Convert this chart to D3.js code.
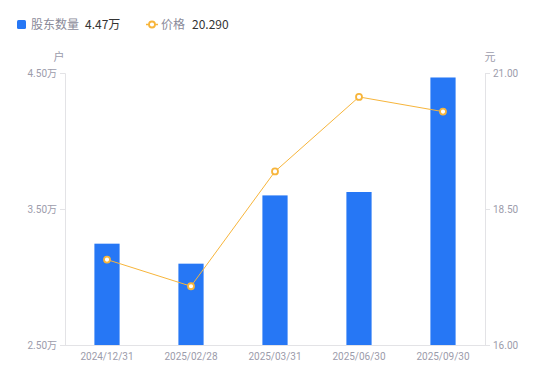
<!DOCTYPE html>
<html><head><meta charset="utf-8">
<script src="https://cdn.jsdelivr.net/npm/d3@7/dist/d3.min.js"></script>
<style>
html,body{margin:0;padding:0;background:#fff;}
svg{display:block;font-family:"Noto Sans CJK SC","Noto Sans",sans-serif;}
</style></head>
<body><svg id="c" width="550" height="381"></svg>
<script>
const categories = ["2024/12/31","2025/02/28","2025/03/31","2025/06/30","2025/09/30"];
const holders = [3.245, 3.098, 3.60, 3.625, 4.467]; // 万户
const prices = [17.57, 17.08, 19.19, 20.56, 20.29]; // 元
const leftTicks = [2.5, 3.5, 4.5];
const rightTicks = [16.0, 18.5, 21.0];
const legendHolder = "4.47万";
const legendPrice = "20.290";

const svg = d3.select("#c");
const L = 65, R = 485, T = 73, B = 345;
const x = d3.scaleBand().domain(categories).range([L, R]).paddingInner(0.7).paddingOuter(0.35);
const yL = d3.scaleLinear().domain([2.5, 4.5]).range([B, T]);
const yR = d3.scaleLinear().domain([16, 21]).range([B, T]);
const axisColor = "#e3e3e6", textColor = "#9c9cab";
const barColor = "#2677f5", lineColor = "#f7b53b";

// axes
const gl = svg.append("g").attr("transform", `translate(${L},0)`)
  .call(d3.axisLeft(yL).tickValues(leftTicks).tickSize(5).tickPadding(3).tickFormat(d => d3.format(".2f")(d) + "万"));
const gr = svg.append("g").attr("transform", `translate(${R},0)`)
  .call(d3.axisRight(yR).tickValues(rightTicks).tickSize(5).tickPadding(3).tickFormat(d3.format(".2f")));
const gb = svg.append("g").attr("transform", `translate(0,${B})`)
  .call(d3.axisBottom(x).tickSize(0).tickPadding(8));
[gl, gr, gb].forEach(g => {
  g.select(".domain").attr("stroke", axisColor);
  g.selectAll(".tick line").attr("stroke", axisColor);
  g.selectAll("text").attr("fill", textColor).style("font-size", "10px").style("font-family", "Roboto,'Noto Sans CJK SC',sans-serif");
});
gb.select(".domain").attr("d", `M${L - 5},0.5H${R}`);

// unit labels
svg.append("text").attr("x", 59).attr("y", 61).attr("text-anchor", "middle").attr("fill", textColor).style("font-size", "11px").text("户");
svg.append("text").attr("x", 490).attr("y", 61).attr("text-anchor", "middle").attr("fill", textColor).style("font-size", "11px").text("元");

// bars
svg.append("g").selectAll("rect").data(holders).join("rect")
  .attr("x", (d, i) => x(categories[i]))
  .attr("width", x.bandwidth())
  .attr("y", d => yL(d))
  .attr("height", d => B - yL(d))
  .attr("fill", barColor);

// line
const cx = i => x(categories[i]) + x.bandwidth() / 2;
svg.append("path").datum(prices)
  .attr("d", d3.line().x((d, i) => cx(i)).y(d => yR(d)))
  .attr("fill", "none").attr("stroke", lineColor).attr("stroke-width", 1);
svg.append("g").selectAll("circle").data(prices).join("circle")
  .attr("cx", (d, i) => cx(i)).attr("cy", d => yR(d)).attr("r", 3)
  .attr("fill", "#fff").attr("stroke", lineColor).attr("stroke-width", 1.8);

// legend
const lg = svg.append("g");
lg.append("rect").attr("x", 17).attr("y", 20).attr("width", 9).attr("height", 9).attr("rx", 1.5).attr("fill", barColor);
lg.append("text").attr("x", 31).attr("y", 29).attr("fill", "#8a8a99").style("font-size", "12px").text("股东数量");
lg.append("text").attr("x", 85).attr("y", 29).attr("fill", "#333").style("font-size", "12px").text(legendHolder);
lg.append("line").attr("x1", 146).attr("x2", 158).attr("y1", 24.5).attr("y2", 24.5).attr("stroke", lineColor).attr("stroke-width", 1.5);
lg.append("circle").attr("cx", 152).attr("cy", 24.5).attr("r", 3).attr("fill", "#fff").attr("stroke", lineColor).attr("stroke-width", 1.8);
lg.append("text").attr("x", 161).attr("y", 29).attr("fill", "#8a8a99").style("font-size", "12px").text("价格");
lg.append("text").attr("x", 192).attr("y", 29).attr("fill", "#333").style("font-size", "12px").text(legendPrice);
</script></body></html>
